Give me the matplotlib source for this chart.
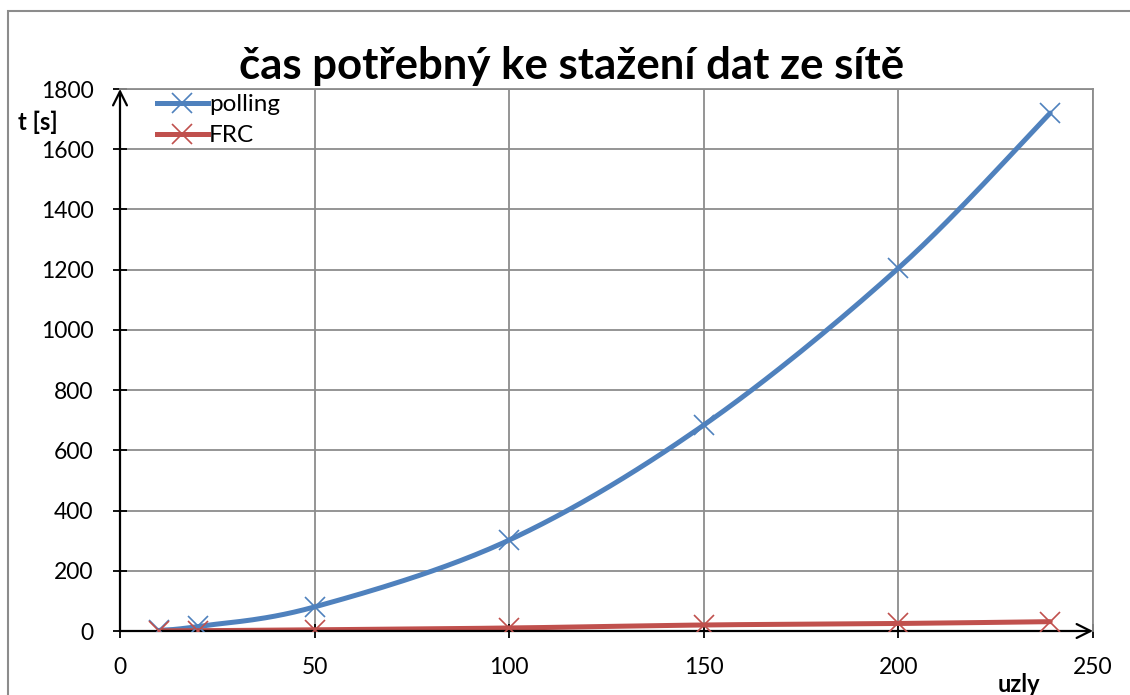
import numpy as np
import matplotlib
matplotlib.use("Agg")
import matplotlib.pyplot as plt
from matplotlib.patches import Rectangle

plt.rcParams['font.family'] = ['Lato', 'DejaVu Sans']

# data
uzly = [10, 20, 50, 100, 150, 200, 239]
polling = [2, 15, 80, 302, 684, 1205, 1720]
frc = [0.5, 1, 4, 10, 20, 25, 31]

title = "čas potřebný ke stažení dat ze sítě"
x_ticks = [0, 50, 100, 150, 200, 250]
y_ticks = [0, 200, 400, 600, 800, 1000, 1200, 1400, 1600, 1800]

BLUE = '#4F81BD'
RED = '#C0504D'


def smooth(xs, ys, steps=30):
    # Catmull-Rom, close to Excel's smoothed line
    p = np.column_stack([xs, ys]).astype(float)
    p = np.vstack([p[0], p, p[-1]])
    out = []
    for i in range(1, len(p) - 2):
        p0, p1, p2, p3 = p[i - 1], p[i], p[i + 1], p[i + 2]
        t = np.linspace(0, 1, steps)[:, None]
        seg = 0.5 * ((2 * p1) + (-p0 + p2) * t
                     + (2 * p0 - 5 * p1 + 4 * p2 - p3) * t ** 2
                     + (-p0 + 3 * p1 - 3 * p2 + p3) * t ** 3)
        out.append(seg)
    out = np.vstack(out)
    return out[:, 0], out[:, 1]


fig = plt.figure(figsize=(11.3, 6.95), dpi=100)
ax = fig.add_axes([120 / 1130, 1 - 631 / 695, (1093 - 120) / 1130, (631 - 89) / 695])

# outer chart border
fig.patches.append(Rectangle((8 / 1130, -0.1), 1.2, 1 - 11 / 695 + 0.1,
                             transform=fig.transFigure, fill=False,
                             edgecolor='#8c8c8c', linewidth=1.5))

for ys, color, name in [(polling, BLUE, 'polling'), (frc, RED, 'FRC')]:
    sx, sy = smooth(uzly, ys)
    ax.plot(sx, sy, color=color, linewidth=3.6, solid_capstyle='round', zorder=3)
    ax.plot(uzly, ys, linestyle='none', marker='x', markersize=14,
            markeredgewidth=1.2, color=color, zorder=4)

# legend
handles = [plt.Line2D([], [], color=BLUE, linewidth=3.6, marker='x',
                      markersize=14, markeredgewidth=1.2),
           plt.Line2D([], [], color=RED, linewidth=3.6, marker='x',
                      markersize=14, markeredgewidth=1.2)]
ax.legend(handles, ['polling', 'FRC'], loc='upper left',
          bbox_to_anchor=(0.028, 1.008), frameon=False, fontsize=17.5,
          handlelength=2.1, handletextpad=0.05, labelspacing=0.4,
          borderaxespad=0)

ax.set_xlim(0, 250)
ax.set_ylim(0, 1800)
ax.set_xticks(x_ticks)
ax.set_yticks(y_ticks)
ax.grid(True, color='#8c8c8c', linewidth=1.3)
ax.set_axisbelow(True)

for s in ['top', 'right']:
    ax.spines[s].set_color('#8c8c8c')
    ax.spines[s].set_linewidth(1.3)
for s in ['left', 'bottom']:
    ax.spines[s].set_visible(False)

ax.tick_params(direction='inout', length=10, width=1.3, color='black',
               labelsize=16.5, pad=14)
ax.tick_params(axis='x', pad=14)

# axis arrows
ax.annotate('', xy=(0, 1.0), xytext=(0, 0), xycoords='axes fraction',
            arrowprops=dict(arrowstyle='->,head_length=1.0,head_width=0.5',
                            color='black', lw=1.6, shrinkA=0, shrinkB=0))
ax.annotate('', xy=(1.0, 0), xytext=(0, 0), xycoords='axes fraction',
            arrowprops=dict(arrowstyle='->,head_length=1.0,head_width=0.5',
                            color='black', lw=1.6, shrinkA=0, shrinkB=0))

fig.text(572 / 1130, 1 - 66 / 695, title, ha='center', va='center',
         fontsize=31.5, fontweight='bold')
fig.text(38 / 1130, 1 - 122 / 695, 't [s]', ha='center', va='center',
         fontsize=17, fontweight='bold')
fig.text(1019 / 1130, 1 - 684 / 695, 'uzly', ha='center', va='center',
         fontsize=17, fontweight='bold')

fig.savefig('out.png', dpi=100)
